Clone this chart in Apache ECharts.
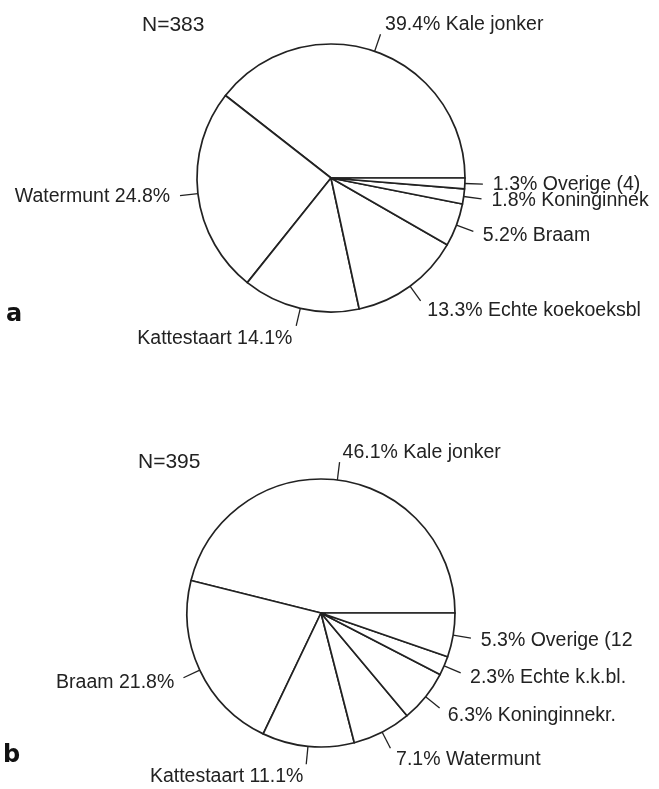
<!DOCTYPE html>
<html><head><meta charset="utf-8">
<script src="https://cdn.jsdelivr.net/npm/echarts@6/dist/echarts.min.js"></script>
<style>html,body{margin:0;padding:0;background:#fff}#c{width:659px;height:789px}</style>
</head><body><div id="c"></div>
<script>
const namesA = ['Kale jonker','Watermunt','Kattestaart','Echte koekoeksbl','Braam','Koninginnek','Overige (4)'];
const valuesA = [39.4, 24.8, 14.1, 13.3, 5.2, 1.8, 1.3];
const namesB = ['Kale jonker','Braam','Kattestaart','Watermunt','Koninginnekr.','Echte k.k.bl.','Overige (12'];
const valuesB = [46.1, 21.8, 11.1, 7.1, 6.3, 2.3, 5.3];
const titleA = 'N=383', titleB = 'N=395';
const panelA = 'a', panelB = 'b';

function midAngles(values){
  const sum = values.reduce((a,b)=>a+b,0);
  let acc = 0;
  return values.map(v=>{ const m = (acc + v/2)/sum*2*Math.PI; acc += v; return m; });
}
function buildData(names, values){
  const mids = midAngles(values);
  return names.map((n,i)=>{
    const c = Math.cos(mids[i]);
    const txt = c < 0 ? n + ' ' + values[i].toFixed(1) + '%' : values[i].toFixed(1) + '% ' + n;
    return {name:n, value:values[i], label:{formatter:txt, distanceToLabelLine: 2 + 8*Math.abs(c)}};
  });
}
function pie(center, names, values){
  const mids = midAngles(values);
  return {type:'pie', center:center, radius:134, startAngle:0, clockwise:false,
    avoidLabelOverlap:false, minShowLabelAngle:0, silent:true, animation:false,
    itemStyle:{color:'#fff', borderColor:'#222', borderWidth:1.7},
    label:{show:true, position:'outside', color:'#222', fontFamily:'Liberation Sans', fontSize:19.5, overflow:'none'},
    labelLine:{show:true, length:18, length2:0, smooth:false, lineStyle:{color:'#222', width:1.3}},
    labelLayout:function(p){
      const s = Math.sin(mids[p.dataIndex]);
      return {dy: s > 0 ? -s*10 : -s*12.5, hideOverlap:false, moveOverlap:null, labelLinePoints:p.labelLinePoints};
    },
    emphasis:{disabled:true},
    data:buildData(names, values)};
}
const chart = echarts.init(document.getElementById('c'), null, {renderer:'canvas'});
chart.setOption({
  backgroundColor:'#fff',
  animation:false,
  graphic:[
    {type:'text', left:142, top:15, style:{text:titleA, fill:'#222', font:'21px "Liberation Sans"'}},
    {type:'text', left:138, top:452, style:{text:titleB, fill:'#222', font:'21px "Liberation Sans"'}},
    {type:'text', left:6, top:303, style:{text:panelA, fill:'#111', font:'bold 24px "DejaVu Sans"'}},
    {type:'text', left:3, top:744, style:{text:panelB, fill:'#111', font:'bold 24px "DejaVu Sans"'}}
  ],
  series:[pie([331,178], namesA, valuesA), pie([321,613], namesB, valuesB)]
});
</script></body></html>
